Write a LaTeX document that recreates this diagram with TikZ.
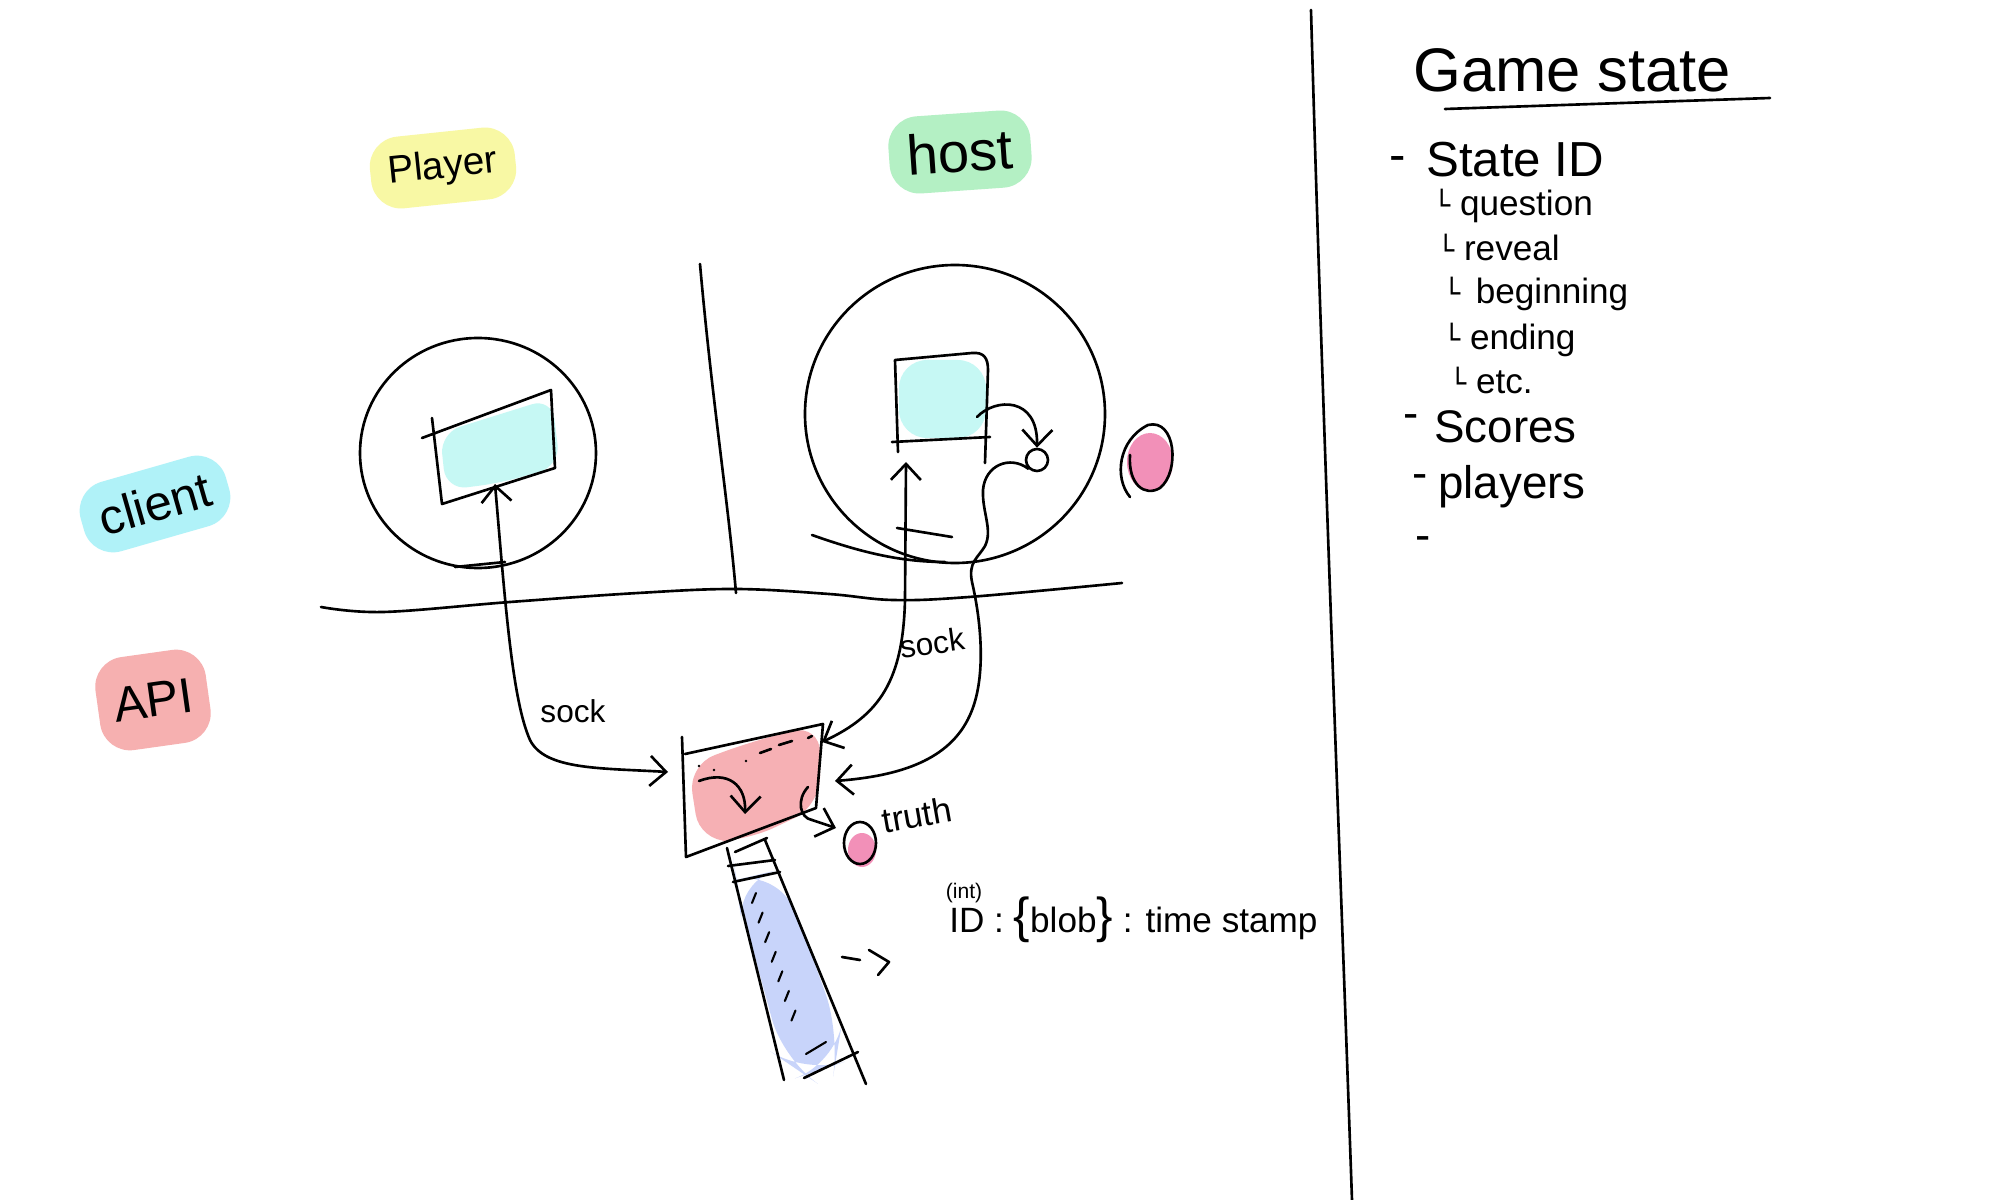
\documentclass[tikz,border=0pt]{standalone}
\usepackage{fontspec}
\setmainfont{Liberation Sans}
\newfontfamily\dejavu{DejaVu Sans}
\usetikzlibrary{arrows.meta,calc}
\definecolor{hlYellow}{HTML}{F8F8A4}
\definecolor{hlGreen}{HTML}{B4F0C4}
\definecolor{hlCyan}{HTML}{B0F2F8}
\definecolor{hlRed}{HTML}{F6B0B0}
\definecolor{scrCyan}{HTML}{C6F8F4}
\definecolor{apiRed}{HTML}{F6B0B4}
\definecolor{pinkDot}{HTML}{F290B8}
\definecolor{tubeBlue}{HTML}{C8D4FA}
\begin{document}
\begin{tikzpicture}[x=0.1mm,y=-0.1mm,line width=0.75pt,line cap=round,line join=round,
  pen/.style={draw=black},
  barb/.style={-{Straight Barb[length=1.6mm,width=3mm]}},
  barbs/.style={{Straight Barb[length=1.6mm,width=3mm]}-{Straight Barb[length=1.6mm,width=3mm]}},
  hl/.style={rounded corners=3mm,inner xsep=1.8mm,inner ysep=1.8mm},
  hand/.style={inner sep=0pt},
  f9/.style={font=\fontsize{9}{11}\selectfont},
  f10/.style={font=\fontsize{10}{12}\selectfont},
  f11/.style={font=\fontsize{11}{13}\selectfont},
  f13/.style={font=\fontsize{13}{15}\selectfont},
  f14/.style={font=\fontsize{14}{16}\selectfont}]
\useasboundingbox (0,0) rectangle (2000,1200);
\fill[white] (0,0) rectangle (2000,1200);

% ---------- right column ----------
\draw[pen] (1311,10) .. controls (1322,400) and (1338,800) .. (1352,1200);
\node[hand,font=\fontsize{17.5}{20}\selectfont,anchor=base west] (title) at (1412,92) {Game state};
\draw[pen] (1445,109) -- (1770,98);

\node[hand,f14,anchor=west] (dash1) at (1388,164) {-};
\node[hand,f14,anchor=west] (stateid) at (1425,160) {State ID};
\node[hand,f10,anchor=west] (q) at (1432,206) {{\dejavu\fontsize{8}{10}\selectfont └} question};
\node[hand,f10,anchor=west] (rv) at (1436,247) {{\dejavu\fontsize{8}{10}\selectfont └} reveal};
\node[hand,f10,anchor=west] (bg) at (1442,294) {{\dejavu\fontsize{8}{10}\selectfont └}\, beginning};
\node[hand,f10,anchor=west] (en) at (1442,340) {{\dejavu\fontsize{8}{10}\selectfont └} ending};
\node[hand,f10,anchor=west] (etc) at (1448,380) {{\dejavu\fontsize{8}{10}\selectfont └} etc.};
\node[hand,f13,anchor=west] (dash2) at (1402,422) {-};
\node[hand,f13,anchor=west] (scores) at (1433,427) {Scores};
\node[hand,f13,anchor=west] (dash3) at (1411,482) {-};
\node[hand,f13,anchor=west] (players) at (1437,487) {players};
\node[hand,f13,anchor=west] (dash4) at (1414,544) {-};

% ---------- labels ----------
\node[hl,fill=hlYellow,f11,rotate=6] (player) at (443,168) {Player};
\node[hl,fill=hlGreen,font=\fontsize{16}{18}\selectfont,rotate=4] (host) at (960,152) {host};
\node[hl,fill=hlCyan,font=\fontsize{14}{16}\selectfont,rotate=16] (client) at (155,504) {client};
\node[hl,fill=hlRed,font=\fontsize{14}{16}\selectfont,rotate=8,inner ysep=3mm,inner xsep=1.6mm] (api) at (153,700) {API};

% ---------- dividers ----------
\draw[pen] (700,264) .. controls (712,400) and (728,500) .. (736,593);
\draw[pen] plot[smooth,tension=0.6] coordinates {(321,607) (383,612) (510,602) (638,593) (736,589) (829,594) (893,600) (969,597) (1122,583)};

% ---------- player side ----------
\draw[pen] (478,453) ellipse [x radius=118,y radius=115];
\draw[pen] (455,567) -- (505,562);
\fill[scrCyan,rounded corners=6] (440,433) -- (552,398) -- (560,466) -- (500,483) -- (446,490) -- cycle;
\draw[pen] (422,438) -- (551,390) -- (555,468) -- (442,504) -- (432,418);
\coordinate (pscreen) at (495,484);

% ---------- host side ----------
\draw[pen] (955,414) ellipse [x radius=150,y radius=149];
\draw[pen] (812,535) .. controls (860,552) and (900,562) .. (945,562);
\draw[pen] (897,528) -- (952,537);
\fill[scrCyan,rounded corners=8] (899,360) rectangle (986,438);
\draw[pen] (898,452) -- (895,360) -- (972,353) .. controls (984,352) and (988,358) .. (988,370) -- (985,463);
\draw[pen] (892,442) -- (990,437);
\coordinate (hscreen) at (906,462);
\node[pen,circle,minimum size=2.2mm,inner sep=0pt] (dot) at (1037,460) {};
\draw[pen,barb] (977,417) .. controls (995,398) and (1038,396) .. (dot.north);

% pink dot beside host
\fill[pinkDot] (1150,462) ellipse [x radius=23,y radius=29];
\draw[pen] (1130,497) .. controls (1114,478) and (1118,440) .. (1148,425) .. controls (1176,418) and (1180,472) .. (1160,488) .. controls (1145,497) and (1128,485) .. (1130,455);

% ---------- API box ----------
\fill[apiRed,rounded corners=8] (688,765) -- (750,742) -- (820,724) -- (820,806) -- (748,840) -- (700,842) -- cycle;
\draw[pen] (682,737) -- (686,857) -- (816,808) -- (823,724) -- (685,754);
\coordinate (apiL) at (668,772);
\coordinate (apiTR) at (822,742);
\coordinate (apiR) at (835,781);
% marks inside api box
\fill (699,766) circle (1.3);
\fill (714,770) circle (1.3);
\fill (746,761) circle (1.3);
\draw[pen] (760,753) -- (771,749);
\draw[pen] (779,745) -- (792,741);
\draw[pen] (808,738) -- (812,736);
\draw[pen,barb] (699,781) .. controls (728,770) and (746,785) .. (745,814);
\draw[pen] (808,787) .. controls (796,800) and (800,818) .. (812,820);
\draw[pen,barb] (812,820) -- (836,828);

% truth dot
\fill[pinkDot] (862,850) ellipse [x radius=14,y radius=17];
\draw[pen] (860,843) ellipse [x radius=16,y radius=21];
\node[hand,f10,rotate=10] (truth) at (917,815) {truth};

% ---------- connectors ----------
\draw[pen,barbs] (pscreen) .. controls (505,600) and (512,700) .. (530,740) .. controls (545,770) and (600,768) .. (apiL);
\node[hand,f9] (sockL) at (573,711) {sock};
\draw[pen,barbs] (hscreen) -- (905,600) .. controls (903,680) and (880,715) .. (apiTR);
\node[hand,f9,rotate=8] (sockR) at (932,643) {sock};
\draw[pen,barb] (dot.south west) .. controls (1010,455) and (985,465) .. (983,490) .. controls (982,512) and (993,530) .. (985,546) .. controls (978,558) and (968,562) .. (972,582) .. controls (982,625) and (986,680) .. (970,715) .. controls (950,760) and (900,776) .. (apiR);

% ---------- tube ----------
\fill[tubeBlue,rounded corners=12] (736,880) -- (778,870) -- (812,955) -- (840,1035) -- (835,1065) -- (805,1075) -- (783,1060) -- (760,975) -- (738,895) -- cycle;
\draw[pen] (727,848) -- (784,1080);
\draw[pen] (765,840) -- (866,1084);
\draw[pen] (804,1078) -- (858,1052);
\draw[pen] (735,852) -- (767,838);
\draw[pen] (728,866) -- (775,860);
\draw[pen] (733,882) -- (780,872);
\foreach \t in {0,0.143,...,0.9}{
  \draw[pen,line width=0.6pt] ($(754,898)!\t!(800,1035)$) ++(-2,5) -- ++(4,-10);
}
\draw[pen,line width=0.6pt] (806,1054) -- (826,1042);

% ---------- misc ----------
\draw[pen] (842,957) -- (860,960);
\draw[pen] (869,950) -- (889,962) -- (878,975);
\node[hand,font=\fontsize{6}{7}\selectfont] (intlbl) at (964,893) {(int)};
\node[hand,f10,anchor=west] (idline) at (948,920) {ID : {\fontsize{14}{14}\selectfont\{}blob{\fontsize{14}{14}\selectfont\}} : time stamp};
\end{tikzpicture}
\end{document}
